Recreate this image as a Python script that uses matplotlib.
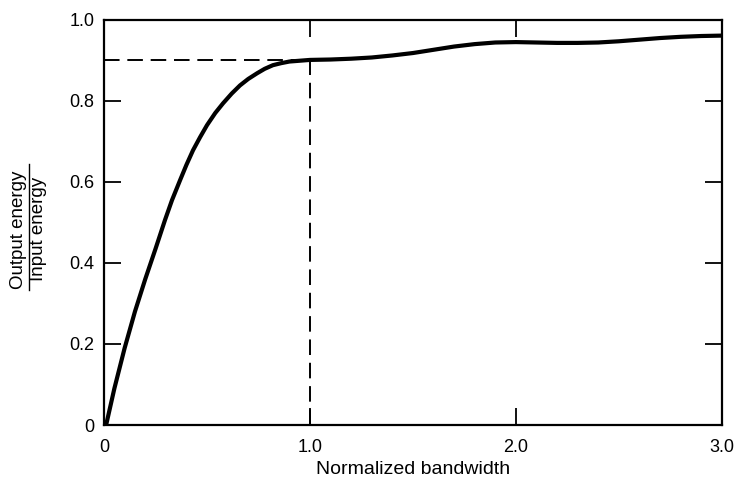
import matplotlib.pyplot as plt
from matplotlib.lines import Line2D

plt.rcParams['font.family'] = ['Liberation Sans', 'DejaVu Sans']

# Curve (normalized bandwidth vs energy ratio)
bandwidth = [0.0, 0.01, 0.05, 0.10, 0.15, 0.20, 0.25, 0.296, 0.33, 0.369, 0.40,
             0.432, 0.466, 0.50, 0.54, 0.578, 0.62, 0.66, 0.70, 0.743, 0.78,
             0.82, 0.86, 0.90, 0.95, 1.0, 1.1, 1.2, 1.3, 1.4, 1.5, 1.6, 1.7,
             1.8, 1.9, 2.0, 2.1, 2.2, 2.3, 2.4, 2.5, 2.6, 2.7, 2.8, 2.9, 3.0]
energy_ratio = [0.0, 0.0, 0.09, 0.19, 0.28, 0.36, 0.435, 0.506, 0.555, 0.604, 0.642,
                0.678, 0.71, 0.74, 0.77, 0.794, 0.818, 0.838, 0.854, 0.868, 0.879,
                0.888, 0.893, 0.897, 0.899, 0.901, 0.902, 0.904, 0.907, 0.912, 0.918,
                0.926, 0.934, 0.940, 0.944, 0.945, 0.944, 0.943, 0.943, 0.944,
                0.947, 0.951, 0.955, 0.958, 0.960, 0.961]

ref_bw = 1.0
ref_ratio = 0.9

x_ticks = [0, 1.0, 2.0, 3.0]
x_labels = ['0', '1.0', '2.0', '3.0']
y_ticks = [0, 0.2, 0.4, 0.6, 0.8, 1.0]
y_labels = ['0', '0.2', '0.4', '0.6', '0.8', '1.0']

fig = plt.figure(figsize=(7.38, 4.83), dpi=100)
ax = fig.add_axes([0.141, 0.120, 0.837, 0.839])

ax.plot(bandwidth, energy_ratio, color='black', linewidth=3.0,
        solid_capstyle='round', solid_joinstyle='round')

# dashed guide lines to the 0.9 point at bandwidth 1.0
ax.plot([0, ref_bw], [ref_ratio, ref_ratio], color='black', linewidth=1.4,
        linestyle=(0, (8, 4)))
ax.plot([ref_bw, ref_bw], [0, ref_ratio], color='black', linewidth=1.4,
        linestyle=(0, (8, 4)))

ax.set_xlim(0, 3.0)
ax.set_ylim(0, 1.0)
ax.set_xticks(x_ticks)
ax.set_xticklabels(x_labels)
ax.set_yticks(y_ticks)
ax.set_yticklabels(y_labels)

ax.tick_params(axis='both', direction='in', length=12, width=1.3,
               top=True, right=True, labelsize=13)
ax.tick_params(axis='x', pad=10)
ax.tick_params(axis='y', pad=7)

# hide the corner ticks, the book only marks the inner values
for t in ax.xaxis.get_major_ticks():
    if t.get_loc() in (0, 3.0):
        t.tick1line.set_visible(False)
        t.tick2line.set_visible(False)
for t in ax.yaxis.get_major_ticks():
    if t.get_loc() in (0, 1.0):
        t.tick1line.set_visible(False)
        t.tick2line.set_visible(False)

for s in ax.spines.values():
    s.set_linewidth(1.6)

ax.set_xlabel('Normalized bandwidth', fontsize=14, labelpad=4)

# y label drawn as a fraction, rotated
fig.text(0.025, 0.525, 'Output energy', rotation=90, ha='center', va='center', fontsize=13.5)
fig.text(0.052, 0.525, 'Input energy', rotation=90, ha='center', va='center', fontsize=13.5)
fig.add_artist(Line2D([0.039, 0.039], [0.40, 0.66], color='black', linewidth=1.0,
                      transform=fig.transFigure))

fig.savefig('out.png', dpi=100, facecolor='white')
